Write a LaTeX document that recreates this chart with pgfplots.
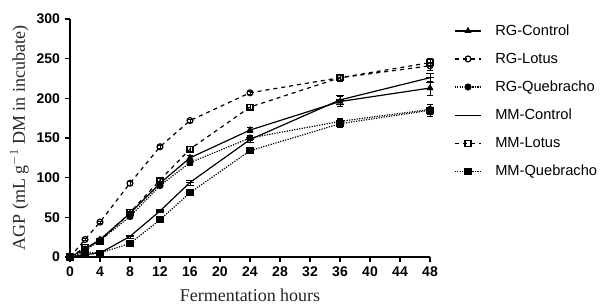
\documentclass[border=0pt]{standalone}
\usepackage{pgfplots}
\pgfplotsset{compat=1.18}
\usepackage{fontspec}
\setmainfont{Liberation Serif}
\newfontfamily\arial{Liberation Sans}
\begin{document}
\begin{tikzpicture}
\path[use as bounding box] (-52.5pt,-37.5pt) rectangle (397.5pt,192.75pt);
\begin{axis}[
  scale only axis,
  width=270pt, height=178.5pt,
  xmin=0, xmax=48, ymin=0, ymax=300,
  axis lines*=left,
  axis line style={line width=1.5pt},
  xtick={0,4,...,48}, ytick={0,50,...,300},
  tick style={line width=1.2pt, black},
  tick align=outside, major tick length=4pt,
  tick label style={font=\arial\bfseries\fontsize{10.5}{12}\selectfont},
  /pgf/number format/assume math mode=true,
  xlabel={\fontsize{13.5}{15}\selectfont Fermentation hours},
  ylabel={\fontsize{13.5}{15}\selectfont AGP (mL g$^{-1}$ DM in incubate)},
  xlabel style={yshift=-2pt, text=black!85},
  ylabel style={yshift=-1pt, text=black!85},
  clip=false,
  legend style={draw=none, fill=none, at={(1.055,1.0)}, anchor=north west,
    font=\arial\fontsize{11}{12}\selectfont, row sep=7.7pt,
    legend cell align=left, nodes={inner xsep=2pt}},
  legend image code/.code={\draw[mark repeat=2,mark phase=2] plot coordinates {(0pt,0pt) (10pt,0pt) (20pt,0pt)};\path (28pt,0pt);},
  every axis plot/.append style={line width=0.9pt, mark size=2.2pt},
  error bars/error bar style={line width=0.7pt},
]
% RG-Control
\addplot[black, solid, mark=triangle*, error bars/.cd, y dir=both, y explicit] coordinates {
 (0,0) (2,10) +- (0,1) (4,22) +- (0,1) (8,55) +- (0,2) (12,93) +- (0,2) (16,125) +- (0,3) (24,160) +- (0,3) (36,196) +- (0,6) (48,213) +- (0,9)};
% RG-Lotus
\addplot[black, dashed, mark=o, mark options={solid, fill=white}, error bars/.cd, y dir=both, y explicit] coordinates {
 (0,0) (2,22) +- (0,1) (4,44) +- (0,1) (8,93) +- (0,2) (12,139) +- (0,2) (16,172) +- (0,2) (24,207) +- (0,2) (36,226) +- (0,4) (48,241) +- (0,5)};
% RG-Quebracho
\addplot[black, densely dotted, mark=*, mark options={solid}, error bars/.cd, y dir=both, y explicit] coordinates {
 (0,0) (2,8) +- (0,1) (4,21) +- (0,1) (8,51) +- (0,2) (12,90) +- (0,2) (16,119) +- (0,3) (24,150) +- (0,3) (36,171) +- (0,4) (48,186) +- (0,6)};
% MM-Control
\addplot[black, solid, mark=-, mark size=3pt, error bars/.cd, y dir=both, y explicit] coordinates {
 (0,0) (2,3) +- (0,1) (4,5) +- (0,1) (8,26) +- (0,2) (12,58) +- (0,2) (16,94) +- (0,3) (24,148) +- (0,3) (36,198) +- (0,6) (48,226) +- (0,6)};
% MM-Lotus
\addplot[black, dashed, mark=square, mark options={solid, fill=white}, error bars/.cd, y dir=both, y explicit] coordinates {
 (0,0) (2,12) +- (0,1) (4,20) +- (0,1) (8,56) +- (0,2) (12,97) +- (0,2) (16,136) +- (0,3) (24,189) +- (0,3) (36,226) +- (0,4) (48,245) +- (0,5)};
% MM-Quebracho
\addplot[black, densely dotted, mark=square*, mark options={solid}, error bars/.cd, y dir=both, y explicit] coordinates {
 (0,0) (2,6) +- (0,1) (4,5) +- (0,1) (8,17) +- (0,2) (12,47) +- (0,2) (16,81) +- (0,2) (24,134) +- (0,3) (36,168) +- (0,5) (48,185) +- (0,7)};
\legend{RG-Control, RG-Lotus, RG-Quebracho, MM-Control, MM-Lotus, MM-Quebracho}
\end{axis}
\end{tikzpicture}
\end{document}
